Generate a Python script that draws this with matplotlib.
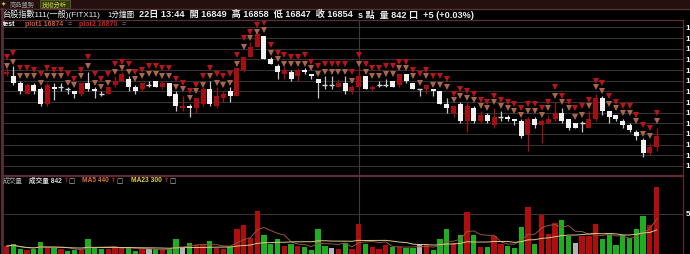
import matplotlib
matplotlib.use('Agg')
import matplotlib.pyplot as plt
import pandas as pd
from matplotlib.lines import Line2D
from matplotlib.patches import Rectangle

# candle data (1 minute bars)
opens = [16883, 16882, 16879, 16874, 16878, 16876, 16869, 16877, 16877, 16876,
         16875, 16874, 16879, 16876, 16874, 16874, 16878, 16880, 16881, 16877,
         16876, 16878, 16880, 16877, 16879, 16874, 16867, 16868, 16867, 16869,
         16876, 16868, 16872, 16875, 16873, 16885, 16891, 16896, 16901, 16890,
         16887, 16883, 16884, 16882, 16885, 16883, 16881, 16878, 16878, 16877,
         16879, 16875, 16877, 16882, 16876, 16878, 16878, 16880, 16878, 16883,
         16879, 16876, 16876, 16876, 16875, 16869, 16865, 16869, 16861, 16867,
         16861, 16864, 16859, 16863, 16863, 16862, 16861, 16855, 16862, 16859,
         16860, 16862, 16865, 16862, 16860, 16860, 16858, 16862, 16872, 16866,
         16864, 16861, 16859, 16856, 16852, 16846, 16849]
highs = [16886, 16887, 16880, 16879, 16879, 16877, 16879, 16879, 16879, 16877,
         16875, 16879, 16884, 16877, 16875, 16877, 16882, 16884, 16882, 16878,
         16879, 16880, 16880, 16880, 16879, 16875, 16873, 16869, 16872, 16877,
         16880, 16877, 16875, 16877, 16886, 16891, 16898, 16903, 16901, 16891,
         16888, 16887, 16885, 16886, 16886, 16883, 16881, 16882, 16882, 16881,
         16882, 16878, 16886, 16882, 16878, 16880, 16881, 16880, 16883, 16883,
         16879, 16876, 16878, 16876, 16875, 16872, 16868, 16870, 16870, 16868,
         16866, 16865, 16867, 16866, 16864, 16862, 16862, 16863, 16863, 16862,
         16864, 16870, 16867, 16862, 16860, 16861, 16866, 16874, 16873, 16866,
         16864, 16862, 16860, 16857, 16853, 16851, 16858]
lows = [16882, 16878, 16874, 16874, 16874, 16868, 16868, 16871, 16875, 16874,
        16872, 16873, 16875, 16872, 16873, 16874, 16877, 16880, 16875, 16874,
        16875, 16877, 16877, 16876, 16873, 16866, 16866, 16863, 16865, 16868,
        16868, 16867, 16870, 16870, 16873, 16884, 16891, 16896, 16890, 16888,
        16881, 16881, 16880, 16880, 16883, 16881, 16872, 16876, 16876, 16877,
        16874, 16874, 16876, 16876, 16875, 16877, 16877, 16877, 16877, 16879,
        16876, 16873, 16874, 16873, 16869, 16865, 16863, 16860, 16856, 16860,
        16860, 16860, 16858, 16861, 16861, 16859, 16853, 16847, 16858, 16851,
        16860, 16861, 16860, 16857, 16858, 16856, 16858, 16861, 16864, 16860,
        16861, 16858, 16856, 16852, 16844, 16845, 16847]
closes = [16884, 16879, 16875, 16878, 16875, 16869, 16878, 16876, 16877, 16876,
          16874, 16879, 16876, 16875, 16874, 16877, 16880, 16883, 16877, 16875,
          16879, 16878, 16877, 16879, 16873, 16868, 16868, 16867, 16872, 16876,
          16869, 16873, 16874, 16873, 16886, 16891, 16896, 16902, 16890, 16888,
          16884, 16885, 16881, 16885, 16884, 16882, 16879, 16878, 16878, 16879,
          16875, 16877, 16882, 16876, 16877, 16878, 16878, 16877, 16883, 16880,
          16876, 16876, 16878, 16875, 16869, 16867, 16868, 16861, 16868, 16861,
          16864, 16861, 16863, 16863, 16862, 16861, 16854, 16862, 16859, 16861,
          16862, 16865, 16861, 16858, 16858, 16860, 16862, 16872, 16866, 16863,
          16862, 16859, 16857, 16854, 16846, 16849, 16854]
# indicator markers (plot2 = red, plot1 = brown)
plot2_vals = [16891, 16893, 16886, 16886, 16885, 16883, 16886, 16885, 16885, 16883,
              16881, 16885, 16891, 16883, 16881, 16883, 16888, 16889, 16888, 16884,
              16885, 16887, 16887, 16886, 16886, 16881, 16879, 16875, 16878, 16882,
              16886, 16883, 16882, 16883, 16892, 16900, 16903, 16906, 16907, 16897,
              16893, 16892, 16891, 16891, 16892, 16889, 16887, 16888, 16888, 16888,
              16888, 16884, 16892, 16888, 16886, 16886, 16887, 16887, 16889, 16889,
              16885, 16883, 16885, 16882, 16882, 16881, 16874, 16876, 16875, 16874,
              16871, 16870, 16873, 16871, 16870, 16869, 16867, 16869, 16869, 16867,
              16870, 16877, 16873, 16870, 16867, 16868, 16871, 16880, 16879, 16873,
              16870, 16868, 16868, 16864, 16859, 16858, 16865]
plot1_vals = [16887, 16889, 16882, 16882, 16882, 16879, 16882, 16882, 16882, 16879,
              16878, 16882, 16887, 16879, 16877, 16879, 16884, 16886, 16884, 16881,
              16882, 16883, 16883, 16882, 16882, 16877, 16876, 16872, 16875, 16878,
              16882, 16879, 16878, 16879, 16888, 16896, 16900, 16903, 16904, 16893,
              16890, 16888, 16888, 16888, 16888, 16886, 16883, 16884, 16884, 16884,
              16884, 16880, 16888, 16884, 16882, 16882, 16883, 16883, 16886, 16886,
              16882, 16879, 16882, 16878, 16878, 16877, 16871, 16873, 16872, 16871,
              16868, 16867, 16870, 16868, 16867, 16866, 16864, 16866, 16866, 16864,
              16867, 16873, 16870, 16867, 16863, 16864, 16868, 16877, 16875, 16869,
              16867, 16865, 16865, 16861, 16855, 16854, 16861]
volumes = [94, 115, 51, 43, 51, 145, 85, 72, 51, 30,
           43, 51, 188, 72, 51, 60, 72, 85, 85, 30,
           51, 51, 51, 51, 60, 179, 72, 128, 102, 102,
           154, 72, 51, 85, 307, 358, 200, 542, 239, 115,
           179, 94, 115, 94, 85, 43, 307, 94, 72, 60,
           128, 60, 371, 115, 85, 60, 102, 85, 85, 72,
           72, 115, 102, 43, 188, 316, 128, 230, 525, 230,
           85, 85, 222, 115, 94, 72, 341, 593, 115, 486,
           243, 392, 422, 222, 128, 222, 222, 371, 188, 230,
           102, 230, 200, 307, 469, 358, 842]
# 1 = up (red), -1 = down (green), 0 = flat (grey)
vol_dir = [1, -1, -1, 1, -1, -1, 1, -1, 1, -1,
           -1, 1, -1, -1, -1, 1, 1, 1, -1, -1,
           1, 0, -1, 1, -1, -1, 0, -1, 1, 1,
           -1, 1, 1, -1, 1, 1, 1, 1, -1, -1,
           -1, 1, -1, 1, -1, -1, -1, -1, 0, 1,
           -1, 1, 1, -1, 1, 1, 1, -1, 1, -1,
           -1, 0, 1, -1, -1, -1, 1, -1, 1, -1,
           1, -1, 1, 1, -1, -1, -1, 1, -1, 1,
           1, 1, -1, -1, 0, 1, 1, 1, -1, -1,
           -1, -1, -1, -1, -1, 1, 1]
price_ticks = list(range(16840, 16906, 5))

W, H = 690, 255
BG = '#000000'
RED = '#a50f12'
WHITE = '#f2f2f2'
GRID = '#333333'
FRAME = '#5c2c38'

plt.rcParams['font.family'] = ['Liberation Sans', 'Noto Sans CJK TC']


def fx(px):
    return px / W


def fy(py):
    return 1 - py / H


fig = plt.figure(figsize=(W / 100, H / 100), dpi=100, facecolor=BG)

df = pd.DataFrame({'o': opens, 'h': highs, 'l': lows, 'c': closes,
                   'p1': plot1_vals, 'p2': plot2_vals, 'v': volumes, 'd': vol_dir})
df['x'] = range(len(df))

# ---- price pane
ax = fig.add_axes([fx(3), fy(176), fx(683) - fx(3), fy(21) - fy(176)])
ax.set_facecolor(BG)
ax.set_xlim(-0.55, 99.9)
ax.set_ylim(16835.75, 16908.5)
for p in price_ticks:
    ax.axhline(p, color=GRID, lw=0.8, zorder=0)
ax.axvline(52.1, color='#3c3c3c', lw=0.8, zorder=0)

up = df[df.c > df.o]
dn = df[df.c < df.o]
flat = df[df.c == df.o]
ax.vlines(up.x, up.l, up.h, color=RED, lw=0.9, zorder=2)
ax.vlines(dn.x, dn.l, dn.h, color='#c8c8c8', lw=0.9, zorder=2)
ax.vlines(flat.x, flat.l, flat.h, color='#c8c8c8', lw=0.9, zorder=2)
ax.bar(up.x, up.c - up.o, bottom=up.o, width=0.74, color=RED, zorder=3)
ax.bar(dn.x, dn.o - dn.c, bottom=dn.c, width=0.74, color=WHITE, zorder=3)
ax.hlines(flat.c, flat.x - 0.37, flat.x + 0.37, color='#d8d8d8', lw=1.0, zorder=3)

ax.plot(df.x, df.p2, 'v', ls='none', color='#b8141a', ms=4.6, mew=0, zorder=4)
ax.plot(df.x, df.p1, 'v', ls='none', color='#a8664a', ms=4.6, mew=0, zorder=4)
for s in ax.spines.values():
    s.set_visible(False)
ax.set_xticks([])
ax.set_yticks([])

for p in price_ticks:
    ax.text(1.004, p, str(p), transform=ax.get_yaxis_transform(), color='white',
            fontsize=5.8, fontweight='bold', va='center', ha='left', clip_on=False)

# ---- volume pane
axv = fig.add_axes([fx(3), fy(254.5), fx(683) - fx(3), fy(178) - fy(254.5)])
axv.set_facecolor(BG)
axv.set_xlim(-0.55, 99.9)
axv.set_ylim(0, 968)
axv.axhline(500, color=GRID, lw=0.8, zorder=0)
axv.axvline(52.1, color='#3c3c3c', lw=0.8, zorder=0)
vcol = df.d.map({1: '#b00e0e', -1: '#1fae1f', 0: '#b4b4b4'})
axv.bar(df.x, df.v, width=0.78, color=vcol, zorder=2)
ma5 = df.v.rolling(5, min_periods=1).mean()
ma23 = df.v.rolling(23, min_periods=1).mean()
axv.plot(df.x, ma5, color='#8c5a3c', lw=0.7, zorder=3)
axv.plot(df.x, ma23, color='#d8c890', lw=0.7, zorder=3)
for s in axv.spines.values():
    s.set_visible(False)
axv.set_xticks([])
axv.set_yticks([])
axv.text(1.004, 500, '500', transform=axv.get_yaxis_transform(), color='white',
         fontsize=5.8, fontweight='bold', va='center', ha='left', clip_on=False)

# ---- frames and top strip
fig.patches.append(Rectangle((0, fy(9.5)), 1, 1 - fy(9.5), transform=fig.transFigure,
                             facecolor='#24100f', edgecolor='none', zorder=0))
for (x0, y0, x1, y1, lw) in [(0, 9.5, 690, 9.5, 1.0), (3, 21, 683, 21, 0.9),
                             (1.5, 9.5, 1.5, 255, 2.0), (683, 21, 683, 255, 0.9),
                             (3, 177, 683, 177, 1.6)]:
    fig.lines.append(Line2D([fx(x0), fx(x1)], [fy(y0), fy(y1)], transform=fig.transFigure,
                            color=FRAME, lw=lw))

fig.patches.append(Rectangle((fx(40), fy(8.5)), fx(30), fy(1) - fy(8.5), transform=fig.transFigure,
                             facecolor='#2c3a10', edgecolor='#6a6a30', lw=0.5))
fig.text(fx(1), fy(4.5), '✦', color='#c8c040', fontsize=4.5, va='center',
         family=['DejaVu Sans'])
fig.text(fx(10), fy(4.8), '商品盤勢', color='#9a9a9a', fontsize=4.5, va='center')
fig.text(fx(42), fy(4.8), '技術分析', color='#d8d040', fontsize=4.5, va='center')

# ---- header line
fig.text(fx(2), fy(14.5), '台股指數111(一般)(FITX11)', color='#ececec', fontsize=5.9, va='center')
fig.text(fx(107), fy(14.5), '1分鐘圖', color='#ececec', fontsize=5.5, va='center')
fig.text(fx(139), fy(14.5), '22日 13:44  開 16849  高 16858  低 16847  收 16854',
         color='#ececec', fontsize=6.6, fontweight='bold', va='center')
fig.text(fx(358), fy(14.5), 's 點  量 842 口  +5 (+0.03%)',
         color='#ececec', fontsize=6.6, fontweight='bold', va='center')

# ---- legend rows
fig.text(fx(3), fy(24.5), 'test', color='white', fontsize=5, fontweight='bold', va='center')
fig.text(fx(25), fy(24.5), 'plot1 16874', color='#d0582c', fontsize=5, fontweight='bold', va='center')
fig.text(fx(68), fy(24.5), '=', color='#9a9a9a', fontsize=5, va='center')
fig.text(fx(79), fy(24.5), 'plot2 16870', color='#d41c1c', fontsize=5, fontweight='bold', va='center')
fig.text(fx(122), fy(24.5), '=', color='#9a9a9a', fontsize=5, va='center')

fig.text(fx(3), fy(181), '成交量', color='#b0b0b0', fontsize=4.8, va='center')
fig.text(fx(29), fy(181), '成交量 842', color='#d8d8d8', fontsize=4.8, fontweight='bold', va='center')
fig.text(fx(82), fy(181), 'MA5 440', color='#d8743a', fontsize=4.8, fontweight='bold', va='center')
fig.text(fx(131), fy(181), 'MA23 300', color='#e0d040', fontsize=4.8, fontweight='bold', va='center')
for xp in (63.5, 111, 164):
    fig.text(fx(xp), fy(181), '↑', color='#e02020', fontsize=4.2, fontweight='bold', va='center',
             family=['DejaVu Sans'])
    fig.text(fx(xp + 5), fy(181), '□', color='#c8c8c8', fontsize=4.8, va='center',
             family=['DejaVu Sans'])

fig.savefig('out.png', dpi=100, facecolor=BG)
